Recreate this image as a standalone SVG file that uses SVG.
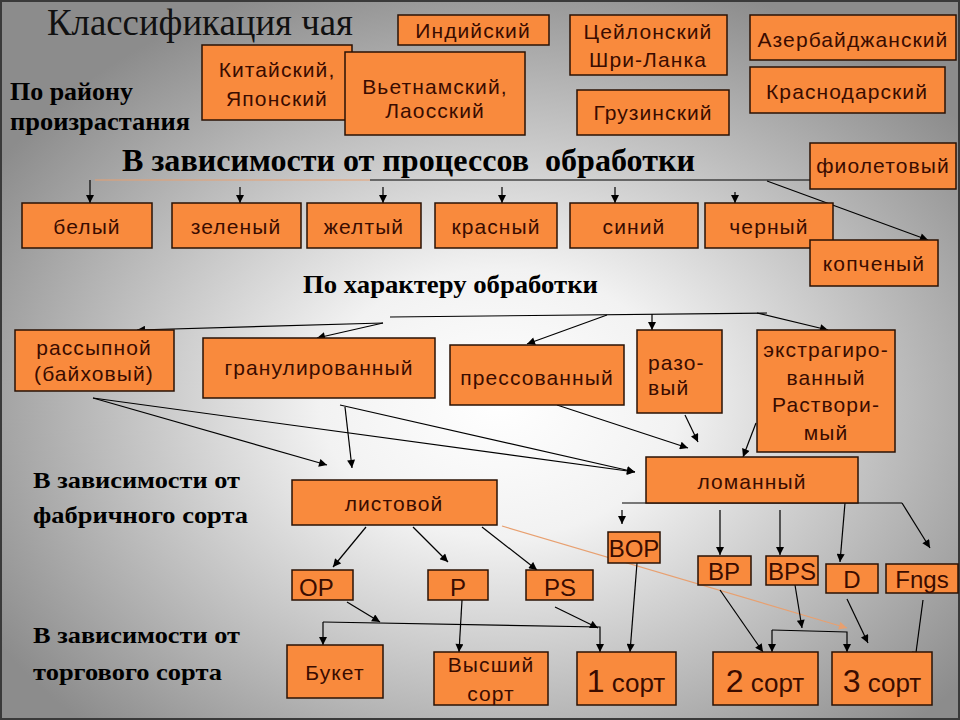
<svg xmlns="http://www.w3.org/2000/svg" width="960" height="720" viewBox="0 0 960 720">
<defs>
<radialGradient id="bg" cx="0.52" cy="0.56" r="0.62">
<stop offset="0" stop-color="#ffffff"/>
<stop offset="0.3" stop-color="#f2f2f2"/>
<stop offset="1" stop-color="#8c8c8c"/>
</radialGradient>
<marker id="a" viewBox="0 0 10 10" refX="10" refY="5" markerWidth="9" markerHeight="8" orient="auto" markerUnits="userSpaceOnUse"><path d="M0,0 L10,5 L0,10 z" fill="#000"/></marker>
<marker id="ao" viewBox="0 0 10 10" refX="10" refY="5" markerWidth="10" markerHeight="8" orient="auto" markerUnits="userSpaceOnUse"><path d="M0,0 L10,5 L0,10 z" fill="#e8a070"/></marker>
</defs>
<style>
.b{fill:#f98a3d;stroke:#2a1205;stroke-width:1.5}
.t{font-family:"Liberation Sans",Arial,sans-serif;font-size:21px;fill:#3a0c00;letter-spacing:1.1px;text-anchor:middle}
.tl{text-anchor:start}
.g{font-size:24px;letter-spacing:0}
.h{font-family:"Liberation Serif","Times New Roman",serif;font-weight:bold;fill:#000}
.c line,.c path{stroke:#000;stroke-width:1.2;fill:none}
.c .ar{marker-end:url(#a)}
.c .or{stroke:#e8a070}
</style>
<rect x="0" y="0" width="960" height="720" fill="url(#bg)"/>
<rect x="1" y="1" width="958" height="718" fill="none" stroke="#3a3a3a" stroke-width="2"/>

<text x="47" y="35" font-family="Liberation Serif,Times New Roman,serif" font-size="37" fill="#111" textLength="306" lengthAdjust="spacingAndGlyphs">Классификация чая</text>
<text class="h" x="10" y="100" font-size="26" textLength="123" lengthAdjust="spacingAndGlyphs">По району</text>
<text class="h" x="10" y="130" font-size="26" textLength="180" lengthAdjust="spacingAndGlyphs">произрастания</text>
<text class="h" x="122" y="171" font-size="32" xml:space="preserve" textLength="573" lengthAdjust="spacingAndGlyphs">В зависимости от процессов  обработки</text>
<text class="h" x="303" y="293" font-size="26" textLength="295" lengthAdjust="spacingAndGlyphs">По характеру обработки</text>
<text class="h" x="33" y="488" font-size="23" textLength="207" lengthAdjust="spacingAndGlyphs">В зависимости от</text>
<text class="h" x="33" y="523" font-size="23" textLength="215" lengthAdjust="spacingAndGlyphs">фабричного сорта</text>
<text class="h" x="33" y="643" font-size="23" textLength="207" lengthAdjust="spacingAndGlyphs">В зависимости от</text>
<text class="h" x="33" y="680" font-size="23" textLength="189" lengthAdjust="spacingAndGlyphs">торгового сорта</text>

<g class="c">
<line class="or" x1="95" y1="180" x2="370" y2="180"/>
<line x1="370" y1="180" x2="810" y2="180"/>
<line class="ar" x1="90" y1="180" x2="90" y2="203"/>
<line class="ar" x1="240" y1="187" x2="240" y2="203"/>
<line class="ar" x1="383" y1="187" x2="383" y2="203"/>
<line class="ar" x1="502" y1="187" x2="502" y2="203"/>
<line class="ar" x1="615" y1="187" x2="615" y2="203"/>
<line class="ar" x1="735" y1="192" x2="735" y2="203"/>
<line class="ar" x1="767" y1="181" x2="928" y2="240"/>

<line x1="390" y1="317" x2="767" y2="313"/>
<line class="ar" x1="383" y1="323" x2="137" y2="330"/>
<line class="ar" x1="383" y1="323" x2="317" y2="338"/>
<line class="ar" x1="607" y1="315" x2="527" y2="344"/>
<line class="ar" x1="652" y1="314" x2="652" y2="330"/>
<line class="ar" x1="757" y1="313" x2="828" y2="330"/>

<line class="ar" x1="93" y1="398" x2="327" y2="465"/>
<line class="ar" x1="93" y1="398" x2="635" y2="472"/>
<line class="ar" x1="340" y1="405" x2="635" y2="472"/>
<line class="ar" x1="345" y1="407" x2="352" y2="468"/>
<line class="ar" x1="557" y1="405" x2="688" y2="448"/>
<line class="ar" x1="685" y1="415" x2="698" y2="442"/>
<line class="ar" x1="756" y1="423" x2="743" y2="457"/>

<line class="ar" x1="366" y1="527" x2="333" y2="567"/>
<line class="ar" x1="413" y1="527" x2="448" y2="562"/>
<line class="ar" x1="482" y1="527" x2="537" y2="570"/>
<line x1="622" y1="503" x2="902" y2="503"/>
<line class="ar" x1="622" y1="510" x2="622" y2="524"/>
<line class="ar" x1="720" y1="510" x2="720" y2="555"/>
<line class="ar" x1="780" y1="510" x2="780" y2="555"/>
<line class="ar" x1="845" y1="503" x2="840" y2="562"/>
<line class="ar" x1="902" y1="503" x2="930" y2="548"/>
<line class="or" x1="502" y1="526" x2="847" y2="628" style="marker-end:url(#ao)"/>

<line class="ar" x1="347" y1="602" x2="380" y2="622"/>
<path class="ar" d="M323,622 L600,627 L600,652"/>
<line class="ar" x1="323" y1="622" x2="323" y2="645"/>
<line class="ar" x1="462" y1="600" x2="459" y2="652"/>
<line class="ar" x1="555" y1="607" x2="598" y2="628"/>
<line class="ar" x1="637" y1="563" x2="630" y2="652"/>
<line class="ar" x1="720" y1="590" x2="763" y2="652"/>
<line class="ar" x1="795" y1="585" x2="802" y2="628"/>
<path class="ar" d="M772,630 L847,632 L847,652"/>
<line class="ar" x1="772" y1="630" x2="772" y2="652"/>
<line class="ar" x1="847" y1="599" x2="868" y2="643"/>
<line class="ar" x1="923" y1="600" x2="915" y2="660"/>
</g>

<g id="indian"><rect class="b" x="398" y="15" width="151" height="30"/><text class="t" x="473" y="38">Индийский</text></g>
<g id="china"><rect class="b" x="202" y="45" width="150" height="75"/><text class="t" x="277" y="77">Китайский,</text><text class="t" x="277" y="106">Японский</text></g>
<g id="vietnam"><rect class="b" x="345" y="52" width="180" height="83"/><text class="t" x="435" y="94">Вьетнамский,</text><text class="t" x="435" y="118">Лаосский</text></g>
<g id="ceylon"><rect class="b" x="570" y="15" width="157" height="60"/><text class="t" x="648" y="39">Цейлонский</text><text class="t" x="648" y="67">Шри-Ланка</text></g>
<g id="georgia"><rect class="b" x="577" y="90" width="152" height="45"/><text class="t" x="653" y="120">Грузинский</text></g>
<g id="azerb"><rect class="b" x="750" y="15" width="206" height="45"/><text class="t" x="853" y="47">Азербайджанский</text></g>
<g id="krasnodar"><rect class="b" x="750" y="67" width="195" height="46"/><text class="t" x="847" y="99">Краснодарский</text></g>
<g id="violet"><rect class="b" x="810" y="143" width="146" height="46"/><text class="t" x="883" y="173">фиолетовый</text></g>

<g id="white"><rect class="b" x="22" y="203" width="130" height="45"/><text class="t" x="87" y="234">белый</text></g>
<g id="green"><rect class="b" x="172" y="203" width="129" height="45"/><text class="t" x="236" y="234">зеленый</text></g>
<g id="yellow"><rect class="b" x="307" y="203" width="114" height="45"/><text class="t" x="364" y="234">желтый</text></g>
<g id="red"><rect class="b" x="435" y="203" width="122" height="45"/><text class="t" x="496" y="234">красный</text></g>
<g id="blue"><rect class="b" x="570" y="203" width="128" height="45"/><text class="t" x="634" y="234">синий</text></g>
<g id="black"><rect class="b" x="705" y="203" width="128" height="45"/><text class="t" x="769" y="234">черный</text></g>
<g id="smoked"><rect class="b" x="810" y="240" width="128" height="46"/><text class="t" x="874" y="271">копченый</text></g>

<g id="loose"><rect class="b" x="15" y="330" width="159" height="61"/><text class="t" x="94" y="355">рассыпной</text><text class="t" x="94" y="381">(байховый)</text></g>
<g id="granul"><rect class="b" x="203" y="338" width="232" height="60"/><text class="t" x="319" y="375">гранулированный</text></g>
<g id="pressed"><rect class="b" x="450" y="345" width="174" height="60"/><text class="t" x="537" y="385">прессованный</text></g>
<g id="single"><rect class="b" x="637" y="330" width="85" height="83"/><text class="t tl" x="648" y="370">разо-</text><text class="t tl" x="648" y="395">вый</text></g>
<g id="extract"><rect class="b" x="757" y="330" width="138" height="122"/><text class="t" x="826" y="357">экстрагиро-</text><text class="t" x="826" y="385">ванный</text><text class="t" x="826" y="412">Раствори-</text><text class="t" x="826" y="440">мый</text></g>

<g id="leaf"><rect class="b" x="292" y="480" width="205" height="45"/><text class="t" x="394" y="511">листовой</text></g>
<g id="broken"><rect class="b" x="646" y="457" width="212" height="46"/><text class="t" x="752" y="489">ломанный</text></g>

<g id="bop"><rect class="b" x="608" y="532" width="52" height="31"/><text class="t g" x="634" y="557">BOP</text></g>
<g id="op"><rect class="b" x="292" y="570" width="61" height="30"/><text class="t g tl" x="299" y="596">OP</text></g>
<g id="p"><rect class="b" x="428" y="570" width="60" height="30"/><text class="t g" x="458" y="596">P</text></g>
<g id="ps"><rect class="b" x="526" y="570" width="67" height="30"/><text class="t g" x="560" y="596">PS</text></g>
<g id="bp"><rect class="b" x="698" y="556" width="53" height="29"/><text class="t g" x="724" y="580">BP</text></g>
<g id="bps"><rect class="b" x="766" y="556" width="52" height="29"/><text class="t g" x="792" y="580">BPS</text></g>
<g id="d"><rect class="b" x="826" y="564" width="52" height="29"/><text class="t g" x="852" y="588">D</text></g>
<g id="fngs"><rect class="b" x="886" y="564" width="72" height="29"/><text class="t g" x="922" y="588">Fngs</text></g>

<g id="bouquet"><rect class="b" x="287" y="645" width="96" height="53"/><text class="t" x="335" y="680">Букет</text></g>
<g id="highest"><rect class="b" x="434" y="652" width="114" height="53"/><text class="t" x="491" y="672">Высший</text><text class="t" x="491" y="701">сорт</text></g>
<g id="first"><rect class="b" x="577" y="652" width="99" height="53"/><text class="t" x="626" y="692" style="letter-spacing:0"><tspan font-size="32">1</tspan><tspan font-size="26"> сорт</tspan></text></g>
<g id="second"><rect class="b" x="713" y="652" width="105" height="53"/><text class="t" x="765" y="692" style="letter-spacing:0"><tspan font-size="32">2</tspan><tspan font-size="26"> сорт</tspan></text></g>
<g id="third"><rect class="b" x="832" y="652" width="100" height="53"/><text class="t" x="882" y="692" style="letter-spacing:0"><tspan font-size="32">3</tspan><tspan font-size="26"> сорт</tspan></text></g>
</svg>
